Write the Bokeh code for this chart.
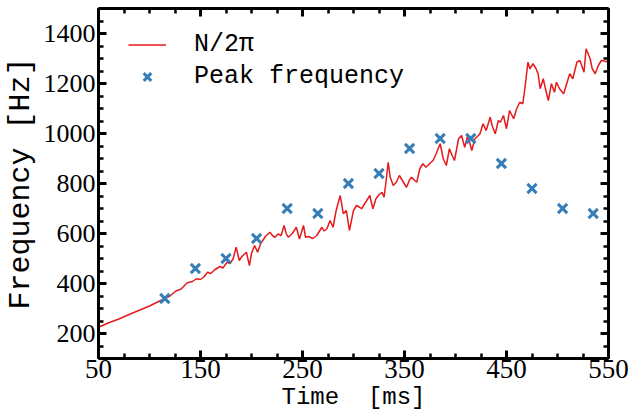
from bokeh.plotting import figure
from bokeh.models import LinearAxis, FixedTicker, Range1d, Legend, CustomJSTickFormatter
from bokeh.embed import file_html
from bokeh.resources import INLINE

# N/2pi curve (time in ms, frequency in Hz)
t_curve = [50, 60, 70, 80, 90, 100, 110, 115, 120, 126, 131, 137, 142, 146, 150, 153, 157, 160, 164, 169,
           172, 176, 179, 182, 185, 188, 191, 195, 198, 200, 203, 206, 209, 211, 214, 218, 221, 223, 226, 229,
           232, 234, 236, 240, 244, 247, 251, 253, 256, 260, 264, 269, 271, 274, 277, 280, 283, 287, 290, 293,
           296, 300, 303, 306, 308, 311, 313, 316, 319, 322, 325, 328, 330, 332, 334, 336, 339, 342, 345, 349,
           352, 355, 357, 360, 362, 365, 368, 371, 373, 376, 378, 381, 385, 388, 391, 394, 397, 399, 403, 406,
           409, 412, 416, 419, 422, 424, 427, 430, 434, 436, 439, 442, 444, 447, 450, 453, 457, 460, 463, 466,
           468, 471, 473, 476, 479, 481, 483, 486, 489, 491, 494, 497, 499, 502, 506, 509, 512, 515, 519, 522,
           526, 528, 532, 534, 537, 540, 543, 546, 550]
f_curve = [225, 243, 258, 276, 293, 310, 330, 340, 350, 370, 378, 403, 408, 419, 416, 425, 445, 440, 455, 468,
           462, 485, 480, 499, 545, 492, 510, 525, 472, 520, 552, 525, 560, 572, 590, 605, 590, 585, 598, 592,
           632, 600, 585, 600, 625, 578, 632, 585, 588, 580, 592, 625, 610, 619, 652, 625, 692, 752, 679, 692,
           612, 692, 712, 705, 699, 720, 732, 752, 699, 739, 755, 765, 745, 812, 885, 825, 792, 805, 832, 805,
           785, 815, 825, 812, 805, 859, 879, 865, 872, 885, 892, 919, 959, 899, 872, 939, 910, 892, 979, 992,
           945, 992, 932, 979, 990, 999, 1039, 1012, 1065, 1030, 999, 1052, 1045, 1072, 1019, 1092, 1059, 1099, 1125, 1119,
           1179, 1285, 1259, 1279, 1259, 1239, 1179, 1219, 1165, 1132, 1199, 1165, 1205, 1179, 1159, 1199, 1239, 1219, 1285, 1292,
           1245, 1339, 1299, 1260, 1239, 1272, 1292, 1290, 1285]

# Peak frequency markers
t_peak = [115, 145, 175, 205, 235, 265, 295, 325, 355, 385, 415, 445, 475, 505, 535]
f_peak = [340, 460, 500, 580, 700, 680, 800, 840, 940, 980, 980, 880, 780, 700, 680]

x_major = [50, 150, 250, 350, 450, 550]
x_minor = list(range(50, 551, 25))
y_major = [200, 400, 600, 800, 1000, 1200, 1400]
y_minor = list(range(100, 1501, 50))

NB = "\u00a0"

p = figure(width=630, height=414, output_backend="svg", toolbar_location=None,
           x_range=Range1d(50, 550), y_range=Range1d(100, 1500),
           min_border_left=98, min_border_right=22, min_border_top=8, min_border_bottom=56)
p.grid.visible = False
p.outline_line_color = None
p.background_fill_color = "white"

line = p.line(t_curve, f_curve, line_color="#e41a1c", line_width=1.5)
sc = p.scatter(t_peak, f_peak, marker="x", size=13, line_color="#377eb8", line_width=3)

xt = FixedTicker(ticks=x_major, minor_ticks=x_minor)
yt = FixedTicker(ticks=y_major, minor_ticks=y_minor)

bottom = p.below[0]
left = p.left[0]
bottom.ticker = xt
left.ticker = yt
bottom.axis_label = "Time" + NB + " [ms]"
left.axis_label = "Frequency [Hz]"

blank = CustomJSTickFormatter(code="return ''")
top = LinearAxis(ticker=xt, formatter=blank, major_label_standoff=0)
right = LinearAxis(ticker=yt, formatter=blank, major_label_standoff=0)
p.add_layout(top, "above")
p.add_layout(right, "right")

for ax in [bottom, left, top, right]:
    ax.axis_line_width = 3
    ax.axis_line_color = "black"
    ax.major_tick_in = 8
    ax.major_tick_out = 0
    ax.major_tick_line_width = 3
    ax.major_tick_line_color = "black"
    ax.minor_tick_in = 5
    ax.minor_tick_out = 0
    ax.minor_tick_line_width = 2.5
    ax.minor_tick_line_color = "black"
    ax.major_label_text_font = "Liberation Serif"
    ax.major_label_text_font_size = "26px"
    ax.major_label_text_color = "black"
    ax.axis_label_text_font = "Liberation Mono"
    ax.axis_label_text_font_style = "normal"
    ax.axis_label_text_color = "black"

bottom.major_label_standoff = 1
bottom.major_label_text_font_size = "27px"
bottom.axis_label_standoff = 3
bottom.axis_label_text_font_size = "24px"
left.major_label_standoff = 3
left.axis_label_standoff = 3
left.axis_label_text_font_size = "30px"

legend = Legend(items=[("N/2\u03c0", [line]), ("Peak frequency", [sc])],
                location=(30, 267), margin=0, padding=0,
                border_line_alpha=0, background_fill_alpha=0,
                label_text_font="Liberation Mono", label_text_font_size="25px",
                label_text_color="black",
                glyph_width=38, glyph_height=27, label_height=27, spacing=3,
                label_standoff=28)
p.add_layout(legend)

open("out.html", "w").write(file_html(p, INLINE))
